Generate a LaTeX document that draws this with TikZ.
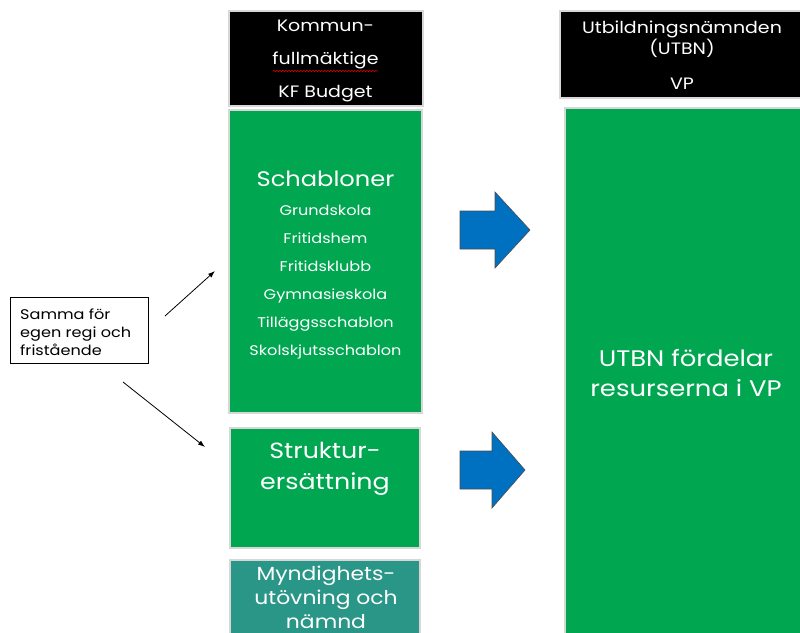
\documentclass[tikz,border=0pt]{standalone}
\usepackage{fontspec}
\setmainfont{Poppins}[FakeStretch=1.15]
\usetikzlibrary{arrows.meta,decorations.pathmorphing}
\definecolor{kgreen}{RGB}{0,166,80}
\definecolor{kteal}{RGB}{42,150,135}
\definecolor{kblue}{RGB}{0,112,192}
\definecolor{kedge}{RGB}{215,215,215}
\begin{document}
\begin{tikzpicture}[x=1pt,y=-1pt,
  box/.style={draw=kedge,line width=2pt},
  txt/.style={text=white,align=center,inner sep=0pt},
  bigarrow/.style={fill=kblue,draw=black!70,line width=0.6pt},
  ptr/.style={-{Latex[length=7pt,width=5pt]},line width=0.8pt}]
\useasboundingbox (0,0) rectangle (800,632);
% left column
\fill[box,fill=black] (229,11) rectangle (423,106);
\node[txt,font=\fontsize{16.5}{33}\selectfont] (kf) at (325.5,61) {Kommun-\\fullmäktige\\KF Budget};
\draw[red,line width=0.5pt,decorate,decoration={snake,amplitude=0.6pt,segment length=3pt}] (273,71) -- (378,71);
\fill[box,fill=kgreen] (229,110) rectangle (422,413);
\node[txt,font=\fontsize{21}{24}\selectfont] (sch) at (325.5,179) {Schabloner};
\node[txt,font=\fontsize{14}{28}\selectfont] (schl) at (325.5,282) {Grundskola\\Fritidshem\\Fritidsklubb\\Gymnasieskola\\Tilläggsschablon\\Skolskjutsschablon};
\fill[box,fill=kgreen] (230,428) rectangle (420,548);
\node[txt,font=\fontsize{22}{31}\selectfont] (str) at (325,469) {Struktur-\\ersättning};
\fill[box,fill=kteal] (230,560) rectangle (420,640);
\node[txt,font=\fontsize{19}{24}\selectfont] (myn) at (326,597) {Myndighets-\\utövning och\\nämnd};
% right column
\fill[box,fill=black] (560,11) rectangle (805,98);
\node[txt,font=\fontsize{16.5}{21}\selectfont] (utbn) at (682,39) {Utbildningsnämnden\\(UTBN)};
\node[txt,font=\fontsize{16.5}{21}\selectfont] (vp) at (682,84) {VP};
\fill[box,fill=kgreen] (565,108) rectangle (805,640);
\node[txt,font=\fontsize{22.5}{29}\selectfont] (fordel) at (686,373) {UTBN fördelar\\resurserna i VP};
% big arrows
\draw[bigarrow] (460,211) -- (495,211) -- (495,192) -- (530,230) -- (495,268) -- (495,249) -- (460,249) -- cycle;
\draw[bigarrow] (460,451) -- (492,451) -- (492,432) -- (525,470) -- (492,508) -- (492,489) -- (460,489) -- cycle;
% note
\node[draw=black,line width=1pt,fill=white,minimum width=138pt,minimum height=66pt,inner sep=0pt] (note) at (79,330) {};
\node[font=\fontsize{14}{18}\selectfont,align=left,anchor=west,inner sep=0pt] (notet) at (20,332) {Samma för\\egen regi och\\fristående};
\coordinate (a1s) at (165,316);
\coordinate (a1e) at (215,271);
\coordinate (a2s) at (123,382);
\coordinate (a2e) at (205,447);
\draw[ptr] (a1s) -- (a1e);
\draw[ptr] (a2s) -- (a2e);
\end{tikzpicture}
\end{document}
